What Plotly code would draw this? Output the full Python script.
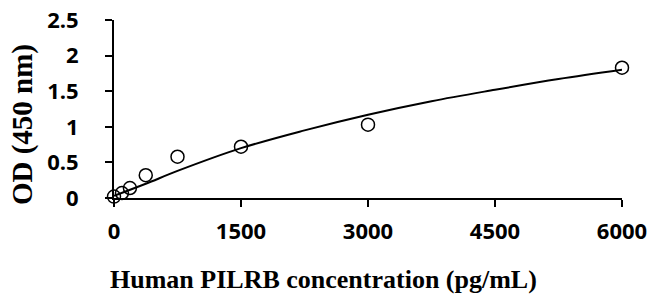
import plotly.graph_objects as go

# Standard points (concentration pg/mL, OD 450 nm)
conc = [0, 94, 188, 375, 750, 1500, 3000, 6000]
od = [0.02, 0.07, 0.14, 0.32, 0.58, 0.72, 1.03, 1.83]

# Fitted curve
curve_x = [0, 375, 750, 1500, 2250, 3000, 3750, 4500, 5250, 6000]
curve_y = [0.03, 0.20, 0.38, 0.70, 0.95, 1.17, 1.36, 1.52, 1.67, 1.80]

x_ticks = [0, 1500, 3000, 4500, 6000]
y_ticks = [0, 0.5, 1, 1.5, 2, 2.5]
y_tick_labels = ["0", "0.5", "1", "1.5", "2", "2.5"]

x_title = "Human PILRB concentration (pg/mL)"
y_title = "OD (450 nm)"

fig = go.Figure()
fig.add_trace(go.Scatter(x=curve_x, y=curve_y, mode="lines",
                         line=dict(color="black", width=2, shape="spline"),
                         cliponaxis=False, hoverinfo="skip"))
fig.add_trace(go.Scatter(x=conc, y=od, mode="markers",
                         marker=dict(symbol="circle-open", size=13, color="black",
                                     line=dict(width=1.5, color="black")),
                         cliponaxis=False))

tick_font = dict(family="Open Sans", size=22, color="black", weight=700)
title_font = dict(family="Liberation Serif", size=26, color="black", weight=700)

fig.update_layout(
    width=653, height=295,
    margin=dict(l=114, r=31, t=20, b=97),
    paper_bgcolor="white", plot_bgcolor="white",
    showlegend=False,
    xaxis=dict(range=[0, 6000], tickvals=x_ticks, ticktext=[str(v) for v in x_ticks],
               showgrid=False, zeroline=False, showline=True, linecolor="black", linewidth=2,
               ticks="outside", ticklen=7, tickwidth=2, tickcolor="black",
               tickfont=tick_font, ticklabelstandoff=6, automargin=False,
               ticklabeloverflow="allow"),
    yaxis=dict(range=[0, 2.5], tickvals=y_ticks, ticktext=y_tick_labels,
               showgrid=False, zeroline=False, showline=True, linecolor="black", linewidth=2,
               ticks="outside", ticklen=7, tickwidth=2, tickcolor="black",
               tickfont=tick_font, ticklabelstandoff=22, automargin=False,
               ticklabeloverflow="allow"),
    annotations=[
        dict(text=x_title, xref="paper", yref="paper", x=0.413, y=-0.46,
             xanchor="center", yanchor="middle", showarrow=False, font=title_font),
        dict(text=y_title, xref="paper", yref="paper", x=-0.181, y=0.41,
             xanchor="center", yanchor="middle", showarrow=False, textangle=-90,
             font=dict(title_font, size=29)),
    ],
)

fig.write_html("out.html", config={"displayModeBar": False},
               post_script="document.body.style.margin='0px';")
